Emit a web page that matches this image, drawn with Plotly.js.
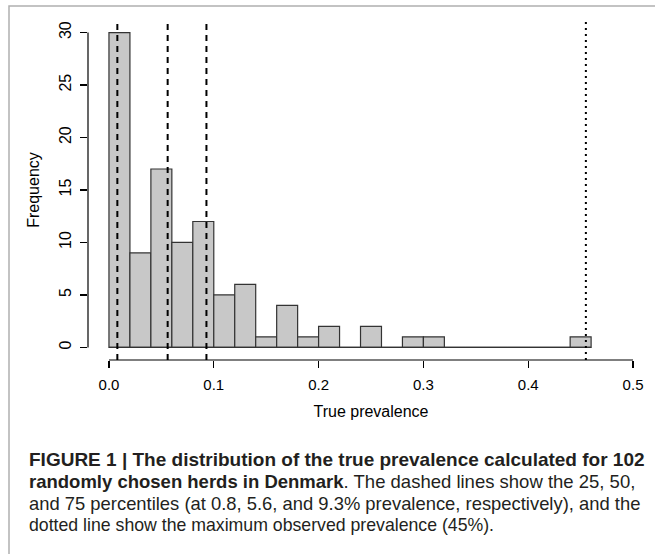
<!DOCTYPE html>
<html>
<head>
<meta charset="utf-8">
<script src="https://cdn.plot.ly/plotly-3.0.1.min.js"></script>
<style>
html,body{margin:0;padding:0;background:#fff;}
#chart{width:655px;height:554px;}
</style>
</head>
<body>
<div id="chart"></div>
<script>
// ---- data ----
const binEdges = [0.00,0.02,0.04,0.06,0.08,0.10,0.12,0.14,0.16,0.18,0.20,0.22,0.24,0.26,0.28,0.30,0.32,0.34,0.36,0.38,0.40,0.42,0.44,0.46];
const counts   = [30, 9, 17, 10, 12, 5, 6, 1, 4, 1, 2, 0, 2, 0, 1, 1, 0, 0, 0, 0, 0, 0, 1];
const percentiles = [0.008, 0.056, 0.093];   // 25, 50, 75 percentiles
const maxPrevalence = 0.455;
const xTicks = [0, 0.1, 0.2, 0.3, 0.4, 0.5];
const xTickText = ["0.0","0.1","0.2","0.3","0.4","0.5"];
const yTicks = [0, 5, 10, 15, 20, 25, 30];
const captionLines = [
  "<b>FIGURE 1 | The distribution of the true prevalence calculated for 102</b>",
  "<b>randomly chosen herds in Denmark</b>. The dashed lines show the 25, 50,",
  "and 75 percentiles (at 0.8, 5.6, and 9.3% prevalence, respectively), and the",
  "dotted line show the maximum observed prevalence (45%)."
];

// ---- layout geometry (pixels) ----
const W = 655, H = 554;
const L = 88, R = 1, T = 20, B = 194;
const PW = W - L - R, PH = H - T - B;
const px = x => (x - L) / PW;
const py = y => (H - B - y) / PH;

const FONT = "Liberation Sans, Arial, Helvetica, sans-serif";

const barX = counts.map((c, i) => binEdges[i]);
const barW = counts.map((c, i) => binEdges[i + 1] - binEdges[i]);

const traces = [
  {
    type: "bar",
    x: barX,
    y: counts,
    width: barW,
    offset: 0,
    marker: {color: "#c8c8c8", line: {color: "#333333", width: 1.2}},
    hoverinfo: "skip",
    showlegend: false
  },
  {
    type: "scatter",
    mode: "lines",
    x: [binEdges[0], binEdges[binEdges.length - 1]],
    y: [0, 0],
    line: {color: "#333333", width: 1.2},
    hoverinfo: "skip",
    showlegend: false
  }
];

const shapes = [];
percentiles.forEach(p => shapes.push({
  type: "line", xref: "x", yref: "paper", x0: p, x1: p, y0: 0, y1: 1,
  line: {color: "#000", width: 2, dash: "6px,5px"}
}));
shapes.push({
  type: "line", xref: "x", yref: "paper", x0: maxPrevalence, x1: maxPrevalence, y0: 0, y1: 1,
  line: {color: "#000", width: 2, dash: "2px,4px"}
});
// axis lines (R style: only over tick range)
shapes.push({type: "line", xref: "x", yref: "paper", x0: xTicks[0], x1: xTicks[xTicks.length-1], y0: 0, y1: 0,
  line: {color: "#000", width: 1.2}});
shapes.push({type: "line", xref: "paper", yref: "y", x0: 0, x1: 0, y0: yTicks[0], y1: yTicks[yTicks.length-1],
  line: {color: "#000", width: 1.2}});
// figure frame
shapes.push({type: "rect", xref: "paper", yref: "paper", x0: px(9), x1: px(662), y0: py(562), y1: py(6),
  line: {color: "#b0b0b0", width: 1.5}, fillcolor: "rgba(0,0,0,0)"});

const annotations = [];
const lineY = [459, 481, 503, 525];
const capSize = [19, 18.5, 18.4, 17.7];
captionLines.forEach((t, i) => annotations.push({
  xref: "paper", yref: "paper", x: px(27), y: py(lineY[i]),
  xanchor: "left", yanchor: "middle", showarrow: false, text: t,
  font: {family: FONT, size: capSize[i], color: "#231f20"}
}));

const layout = {
  width: W, height: H,
  margin: {l: L, r: R, t: T, b: B, pad: 0},
  paper_bgcolor: "#fff", plot_bgcolor: "#fff",
  font: {family: FONT, size: 15, color: "#000"},
  showlegend: false,
  bargap: 0,
  xaxis: {
    range: [-0.02, 0.52], tickvals: xTicks, ticktext: xTickText,
    ticks: "outside", ticklen: 7, tickwidth: 1.2, tickcolor: "#000",
    showline: false, showgrid: false, zeroline: false,
    tickfont: {family: FONT, size: 15, color: "#000"},
    ticklabelstandoff: 4,
    title: {text: "True prevalence", font: {family: FONT, size: 16, color: "#000"}, standoff: 13}
  },
  yaxis: {
    range: [-1.2, 31.2], tickvals: yTicks,
    ticks: "outside", ticklen: 7, tickwidth: 1.2, tickcolor: "#000",
    showline: false, showgrid: false, zeroline: false,
    tickangle: -90,
    tickfont: {family: FONT, size: 16, color: "#000"},
    ticklabelstandoff: 3,
    title: {text: "Frequency", font: {family: FONT, size: 16, color: "#000"}, standoff: 12}
  },
  shapes: shapes,
  annotations: annotations
};

Plotly.newPlot("chart", traces, layout, {displayModeBar: false, staticPlot: true});
</script>
</body>
</html>
